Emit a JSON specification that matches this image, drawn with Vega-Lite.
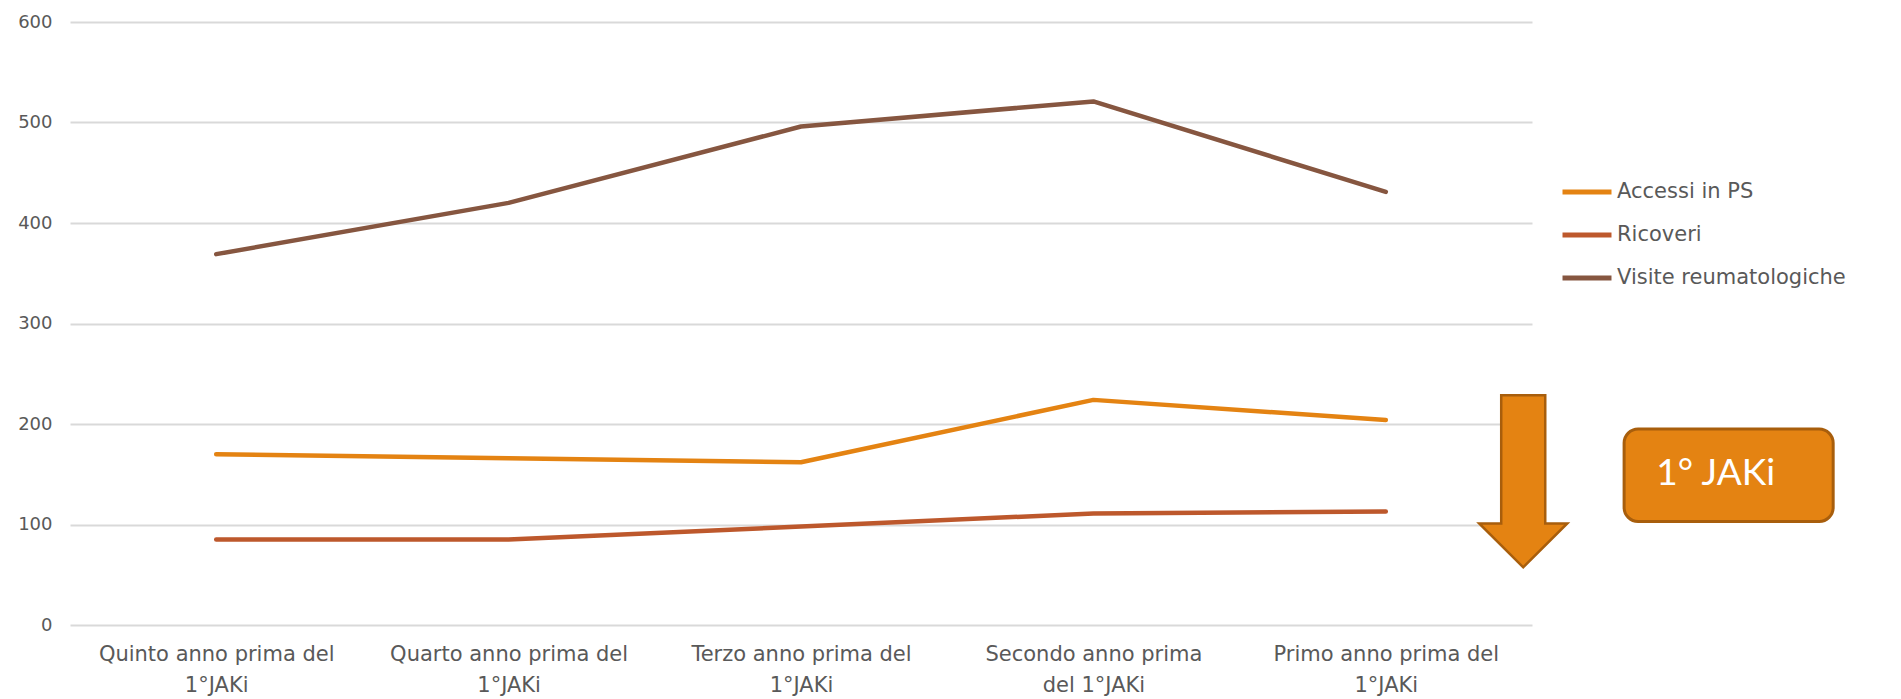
{
  "$schema": "https://vega.github.io/schema/vega-lite/v6.json",
  "autosize": {"type": "none"},
  "padding": {"left": 70, "top": 22, "right": 369, "bottom": 74},
  "width": 1462,
  "height": 603,
  "background": "white",
  "config": {
    "view": {"stroke": null},
    "font": "DejaVu Sans"
  },
  "datasets": {
    "main": [
      {"periodo": "Quinto anno prima del 1°JAKi", "serie": "Accessi in PS", "valore": 170},
      {"periodo": "Quarto anno prima del 1°JAKi", "serie": "Accessi in PS", "valore": 166},
      {"periodo": "Terzo anno prima del 1°JAKi", "serie": "Accessi in PS", "valore": 162},
      {"periodo": "Secondo anno prima del 1°JAKi", "serie": "Accessi in PS", "valore": 224},
      {"periodo": "Primo anno prima del 1°JAKi", "serie": "Accessi in PS", "valore": 204},
      {"periodo": "Quinto anno prima del 1°JAKi", "serie": "Ricoveri", "valore": 85},
      {"periodo": "Quarto anno prima del 1°JAKi", "serie": "Ricoveri", "valore": 85},
      {"periodo": "Terzo anno prima del 1°JAKi", "serie": "Ricoveri", "valore": 98},
      {"periodo": "Secondo anno prima del 1°JAKi", "serie": "Ricoveri", "valore": 111},
      {"periodo": "Primo anno prima del 1°JAKi", "serie": "Ricoveri", "valore": 113},
      {"periodo": "Quinto anno prima del 1°JAKi", "serie": "Visite reumatologiche", "valore": 369},
      {"periodo": "Quarto anno prima del 1°JAKi", "serie": "Visite reumatologiche", "valore": 420},
      {"periodo": "Terzo anno prima del 1°JAKi", "serie": "Visite reumatologiche", "valore": 496},
      {"periodo": "Secondo anno prima del 1°JAKi", "serie": "Visite reumatologiche", "valore": 521},
      {"periodo": "Primo anno prima del 1°JAKi", "serie": "Visite reumatologiche", "valore": 431}
    ],
    "arrow": [{"pos": 4.97, "valore": 143}],
    "box": [{"pos": 5.315, "pos2": 6.03, "valore": 195, "valore2": 103}],
    "label": [{"pos": 5.425, "valore": 150, "testo": "1° JAKi"}]
  },
  "resolve": {"scale": {"x": "independent"}},
  "layer": [
    {
      "data": {"name": "main"},
      "mark": {"type": "line", "strokeWidth": 4.5, "strokeCap": "round", "strokeJoin": "round"},
      "encoding": {
        "x": {
          "field": "periodo",
          "type": "nominal",
          "sort": ["Quinto anno prima del 1°JAKi", "Quarto anno prima del 1°JAKi", "Terzo anno prima del 1°JAKi", "Secondo anno prima del 1°JAKi", "Primo anno prima del 1°JAKi"],
          "scale": {"type": "point", "padding": 0.5},
          "axis": {
            "title": null,
            "domain": false,
            "ticks": false,
            "grid": false,
            "labelAngle": 0,
            "labelFontSize": 21,
            "labelColor": "#595959",
            "labelPadding": 18,
            "labelLineHeight": 31,
            "labelBaseline": "top",
            "labelLimit": 0,
            "labelExpr": "datum.label == 'Secondo anno prima del 1°JAKi' ? ['Secondo anno prima', 'del 1°JAKi'] : [replace(datum.label, ' 1°JAKi', ''), '1°JAKi']"
          }
        },
        "y": {
          "field": "valore",
          "type": "quantitative",
          "scale": {"domain": [0, 600], "nice": false},
          "axis": {
            "title": null,
            "values": [0, 100, 200, 300, 400, 500, 600],
            "domain": false,
            "ticks": false,
            "grid": true,
            "gridColor": "#D9D9D9",
            "gridWidth": 2,
            "labelFontSize": 18,
            "labelColor": "#595959",
            "labelPadding": 18
          }
        },
        "color": {
          "field": "serie",
          "type": "nominal",
          "scale": {
            "domain": ["Accessi in PS", "Ricoveri", "Visite reumatologiche"],
            "range": ["#E48312", "#BD582C", "#865640"]
          },
          "legend": {
            "title": null,
            "orient": "none",
            "legendX": 1490,
            "legendY": 143,
            "symbolType": "stroke",
            "symbolStrokeWidth": 5,
            "symbolSize": 2400,
            "labelFontSize": 21,
            "labelColor": "#595959",
            "labelOffset": 3,
            "labelLimit": 0,
            "rowPadding": 6
          }
        }
      }
    },
    {
      "data": {"name": "arrow"},
      "mark": {
        "type": "point",
        "filled": true,
        "shape": "M-0.256,-1 L0.256,-1 L0.256,0.49 L0.512,0.49 L0,1 L-0.512,0.49 L-0.256,0.49 Z",
        "size": 29584,
        "fill": "#E48312",
        "stroke": "#A85E0C",
        "strokeWidth": 2.5,
        "opacity": 1,
        "fillOpacity": 1
      },
      "encoding": {
        "x": {"field": "pos", "type": "quantitative", "scale": {"domain": [0, 5], "nice": false, "zero": false}, "axis": null},
        "y": {"field": "valore", "type": "quantitative"}
      }
    },
    {
      "data": {"name": "box"},
      "mark": {"type": "rect", "fill": "#E48312", "stroke": "#A85E0C", "strokeWidth": 3, "cornerRadius": 14},
      "encoding": {
        "x": {"field": "pos", "type": "quantitative", "scale": {"domain": [0, 5], "nice": false, "zero": false}, "axis": null},
        "x2": {"field": "pos2"},
        "y": {"field": "valore", "type": "quantitative"},
        "y2": {"field": "valore2"}
      }
    },
    {
      "data": {"name": "label"},
      "mark": {"type": "text", "align": "left", "baseline": "middle", "fontSize": 37, "font": "Lato", "color": "white"},
      "encoding": {
        "x": {"field": "pos", "type": "quantitative", "scale": {"domain": [0, 5], "nice": false, "zero": false}, "axis": null},
        "y": {"field": "valore", "type": "quantitative"},
        "text": {"field": "testo"}
      }
    }
  ]
}
